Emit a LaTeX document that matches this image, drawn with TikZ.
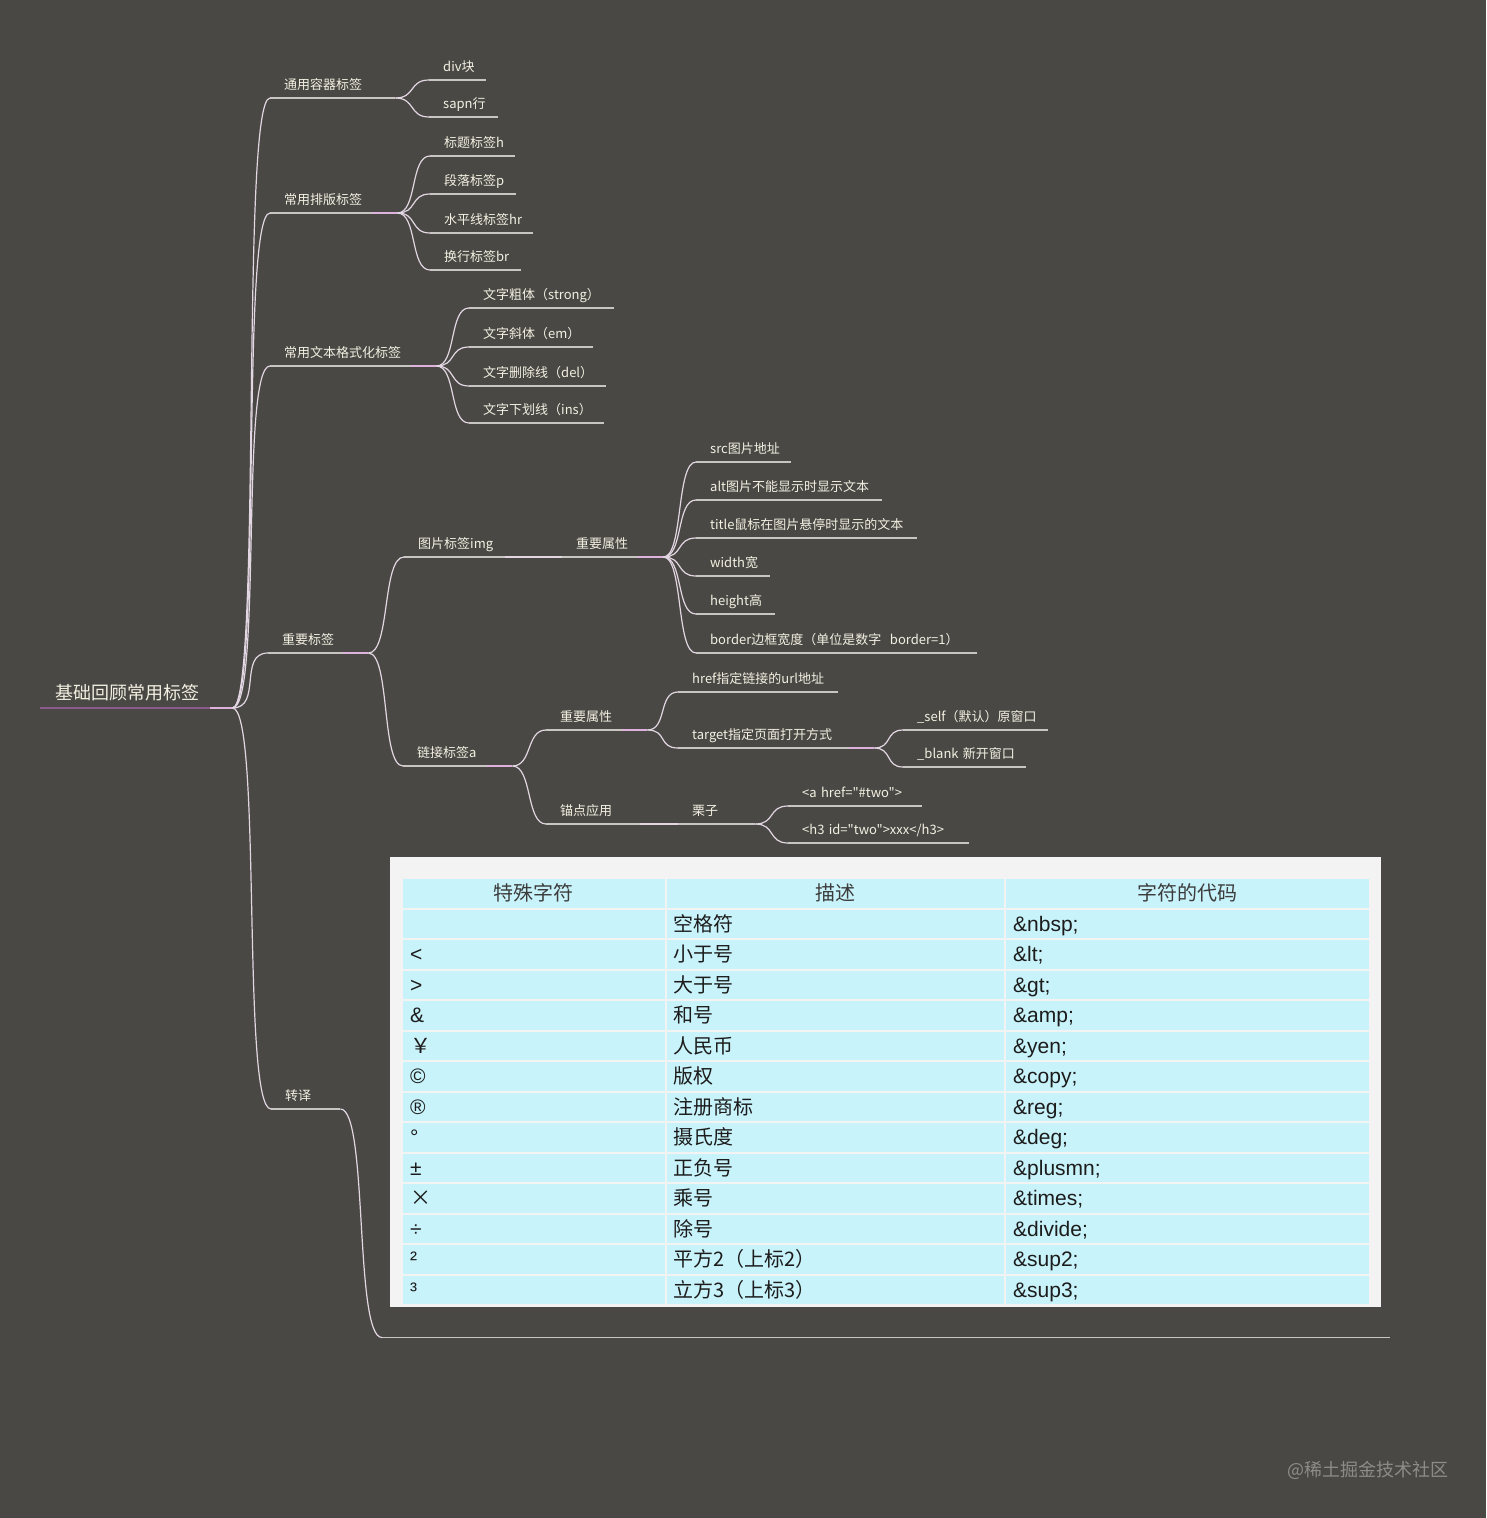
\documentclass[tikz,border=0pt]{standalone}
\usepackage{fontspec}
\setmainfont{Noto Sans CJK SC}
\newfontfamily\plainfont{Noto Sans CJK SC}
\newfontfamily\arialfont{Liberation Sans}
\hyphenpenalty=10000
\definecolor{bgcol}{HTML}{4A4844}
\definecolor{txtcol}{HTML}{F3F0E2}
\definecolor{rulecol}{HTML}{C9C5C3}
\definecolor{twigcol}{HTML}{E2D6E2}
\definecolor{pinkcol}{HTML}{DDB2DD}
\definecolor{purplecol}{HTML}{8A5C8A}
\definecolor{papercol}{HTML}{F3F3F3}
\definecolor{cellcol}{HTML}{C9F3FA}
\definecolor{inkcol}{HTML}{1C1C1C}
\definecolor{headcol}{HTML}{3C3C3C}
\definecolor{markcol}{HTML}{8E8C88}
\tikzset{
  topic/.style={anchor=south west, inner xsep=14pt, inner ysep=3pt,
    text height=10pt, text depth=5.5pt, align=left, text=txtcol,
    font=\fontsize{13}{15}\selectfont},
  rootlabel/.style={inner xsep=15pt, text height=14pt,
    font=\fontsize{18}{21}\selectfont},
  topicrule/.style={draw=rulecol, line width=1.3pt},
  hotrule/.style={draw=pinkcol, line width=1.5pt},
  twig/.style={draw=twigcol, line width=1.2pt},
  bough/.style={to path={.. controls +(#1,0) and +(-#1,0) .. (\tikztotarget)}},
  bough/.default=20,
  cellsym/.style={anchor=base west, inner sep=0pt, text=inkcol,
    font=\arialfont\fontsize{21}{24}\selectfont},
  celldesc/.style={anchor=base west, inner sep=0pt, text=inkcol,
    font=\fontsize{20}{24}\selectfont},
  cellhead/.style={anchor=base, inner sep=0pt, text=headcol,
    font=\fontsize{20}{24}\selectfont}
}
\begin{document}
\begin{tikzpicture}[x=1pt,y=-1pt]
  \fill[bgcol] (0,0) rectangle (1486,1518);
  \useasboundingbox (0,0) rectangle (1486,1518);

  % root and first level
  \node[topic, rootlabel, text width=162pt] (root) at (40,708) {基础回顾常用标签};
  \node[topic, text width=97pt] (a1) at (270,98) {通用容器标签};
  \node[topic, text width=99pt] (a2) at (270,213) {常用排版标签};
  \node[topic, text width=138pt] (a3) at (270,366) {常用文本格式化标签};
  \node[topic, text width=72pt] (a4) at (268,653) {重要标签};
  \node[topic, text width=41pt] (a5) at (271,1109) {转译};

  % second level
  \node[topic, text width=29pt] (b11) at (429,80) {div块};
  \node[topic, text width=41pt] (b12) at (429,117) {sapn行};
  \node[topic, text width=57pt] (b21) at (430,156) {标题标签h};
  \node[topic, text width=58pt] (b22) at (430,194) {段落标签p};
  \node[topic, text width=75pt] (b23) at (430,233) {水平线标签hr};
  \node[topic, text width=63pt] (b24) at (430,270) {换行标签br};
  \node[topic, text width=117pt] (b31) at (469,308) {文字粗体（strong）};
  \node[topic, text width=96pt] (b32) at (469,347) {文字斜体（em）};
  \node[topic, text width=109pt] (b33) at (469,386) {文字删除线（del）};
  \node[topic, text width=107pt] (b34) at (469,423) {文字下划线（ins）};
  \node[topic, text width=73pt] (img) at (404,557) {图片标签img};
  \node[topic, text width=81pt] (lnk) at (403,766) {链接标签a};

  % image attributes
  \node[topic, text width=73pt] (imgattr) at (562,557) {重要属性};
  \node[topic, text width=67pt] (src) at (696,462) {src图片地址};
  \node[topic, text width=158pt] (alt) at (696,500) {alt图片不能显示时显示文本};
  \node[topic, text width=193pt] (title) at (696,538) {title鼠标在图片悬停时显示的文本};
  \node[topic, text width=46pt] (wide) at (696,576) {width宽};
  \node[topic, text width=51pt] (high) at (696,614) {height高};
  \node[topic, text width=253pt] (border) at (696,653) {border边框宽度（单位是数字~~border=1）};

  % link attributes
  \node[topic, text width=73pt] (lnkattr) at (546,730) {重要属性};
  \node[topic, text width=66pt] (spot) at (546,824) {锚点应用};
  \node[topic, text width=132pt] (href) at (678,692) {href指定链接的url地址};
  \node[topic, text width=168pt] (target) at (678,748) {target指定页面打开方式};
  \node[topic, text width=117pt] (self) at (903,730) {\_self（默认）原窗口};
  \node[topic, text width=95pt] (blank) at (903,767) {\_blank~新开窗口};
  \node[topic, text width=49pt] (demo) at (678,824) {栗子};
  \node[topic, text width=106pt] (ahref) at (788,806) {\plainfont <a~href="\#two">};
  \node[topic, text width=153pt] (htag) at (788,843) {\plainfont <h3~id="two">xxx</h3>};

  % escape table as child of a5
  \node[inner sep=0pt, minimum width=1008pt, minimum height=480pt, anchor=south west] (tbl) at (382,1337.5) {};

  % underlines
  \foreach \n in {a1,a2,a3,a4,a5,b11,b12,b21,b22,b23,b24,b31,b32,b33,b34,img,lnk,
      imgattr,src,alt,title,wide,high,border,lnkattr,spot,href,target,self,blank,demo,ahref,htag,tbl}
    \draw[topicrule] (\n.south west) -- (\n.south east);
  \draw[draw=purplecol, line width=1.5pt] (root.south west) -- ([xshift=-22pt]root.south east);
  \draw[hotrule] ([xshift=-22pt]root.south east) -- (root.south east);
  \foreach \n in {a2,a3,a4,imgattr,lnk,lnkattr,target}
    \draw[hotrule] ([xshift=-25pt]\n.south east) -- (\n.south east);

  % connectors
  \foreach \c in {a1,a2,a3,a4,a5}
    \draw[twig] (root.south east) to[bough=30] (\c.south west);
  \foreach \c in {b11,b12} \draw[twig] (a1.south east) to[bough] (\c.south west);
  \foreach \c in {b21,b22,b23,b24} \draw[twig] (a2.south east) to[bough] (\c.south west);
  \foreach \c in {b31,b32,b33,b34} \draw[twig] (a3.south east) to[bough] (\c.south west);
  \foreach \c in {img,lnk} \draw[twig] (a4.south east) to[bough=22] (\c.south west);
  \draw[twig] (img.south east) -- (imgattr.south west);
  \foreach \c in {src,alt,title,wide,high,border} \draw[twig] (imgattr.south east) to[bough] (\c.south west);
  \foreach \c in {lnkattr,spot} \draw[twig] (lnk.south east) to[bough] (\c.south west);
  \foreach \c in {href,target} \draw[twig] (lnkattr.south east) to[bough] (\c.south west);
  \foreach \c in {self,blank} \draw[twig] (target.south east) to[bough=18] (\c.south west);
  \draw[twig] (spot.south east) -- (demo.south west);
  \foreach \c in {ahref,htag} \draw[twig] (demo.south east) to[bough] (\c.south west);
  \draw[twig] (a5.south east) to[bough=28] (tbl.south west);

  % table
  \fill[papercol] (390,857) rectangle (1381,1307);
  \foreach \row in {0,...,13}
    \foreach \xa/\xb in {401.7/665.7, 665.7/1005, 1005/1370}
      \fill[cellcol] (\xa+1,878+30.5*\row+1) rectangle (\xb-1,878+30.5*\row+29.5);
  \node[cellhead] (h1) at (533.7,900.5) {特殊字符};
  \node[cellhead] (h2) at (835.3,900.5) {描述};
  \node[cellhead] (h3) at (1187.5,900.5) {字符的代码};
  \foreach \row/\sym/\desc/\code in {1//空格符/\&nbsp;, 2/</小于号/\&lt;, 3/>/大于号/\&gt;,
      4/\&/和号/\&amp;, 5/{\rmfamily ￥}/人民币/\&yen;, 6/©/版权/\&copy;,
      7/®/注册商标/\&reg;, 8/°/摄氏度/\&deg;, 9/±/正负号/\&plusmn;,
      10/{\rmfamily ×}/乘号/\&times;, 11/÷/除号/\&divide;,
      12/²/平方2（上标2）/\&sup2;, 13/³/立方3（上标3）/\&sup3;}{
    \node[cellsym] (s\row) at (410,878+30.5*\row+22.5) {\sym};
    \node[celldesc] (d\row) at (673,878+30.5*\row+22.5) {\desc};
    \node[cellsym] (c\row) at (1013,878+30.5*\row+22.5) {\code};
  }

  % watermark
  \node[anchor=base west, inner sep=0pt, text=markcol, font=\fontsize{18}{21}\selectfont] (mark) at (1287,1476) {@稀土掘金技术社区};
\end{tikzpicture}
\end{document}
